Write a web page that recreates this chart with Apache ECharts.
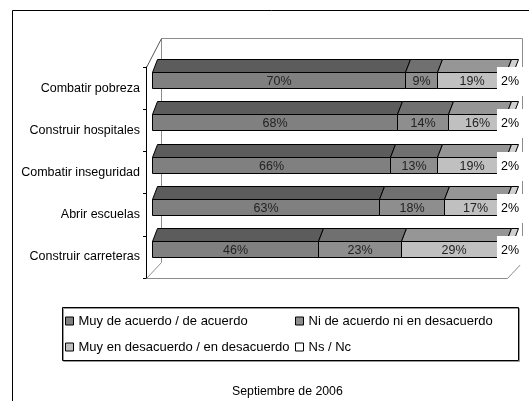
<!DOCTYPE html>
<html>
<head>
<meta charset="utf-8">
<script src="https://cdn.jsdelivr.net/npm/echarts@6/dist/echarts.min.js"></script>
<style>html,body{margin:0;padding:0;background:#fff;}#c{width:529px;height:401px;}</style>
</head>
<body>
<div id="c"></div>
<script>
const categories = ['Combatir pobreza', 'Construir hospitales', 'Combatir inseguridad', 'Abrir escuelas', 'Construir carreteras'];
const seriesNames = ['Muy de acuerdo / de acuerdo', 'Ni de acuerdo ni en desacuerdo', 'Muy en desacuerdo / en desacuerdo', 'Ns / Nc'];
const acuerdo = [70, 68, 66, 63, 46];
const neutral = [9, 14, 13, 18, 23];
const desacuerdo = [19, 16, 19, 17, 29];
const nsnc = [2, 2, 2, 2, 2];
const subtitle = 'Septiembre de 2006';

const FONT = '"Liberation Sans", Arial, sans-serif';
const values = [acuerdo, neutral, desacuerdo, nsnc];
const frontColors = ['#808080', '#8e8e8e', '#c0c0c0', '#ffffff'];
const topColors = ['#5c5c5c', '#707070', '#969696', '#d0d0d0'];

// stacked data: [catIndex, start, end, value]
const stacked = values.map(() => []);
categories.forEach((c, i) => {
  let acc = 0;
  values.forEach((arr, k) => {
    stacked[k].push([i, acc, acc + arr[i], arr[i]]);
    acc += arr[i];
  });
});

const crisp = v => Math.round(v) + 0.5;

function makeRender(k) {
  return function (params, api) {
    const cat = api.value(0), s = api.value(1), e = api.value(2), v = api.value(3);
    const p0 = api.coord([s, cat]);
    const p1 = api.coord([e, cat]);
    const h = 16, ddx = 5, ddy = -13;
    const x0 = crisp(p0[0] + 6), x1 = crisp(p1[0] + 6);
    const yc = p0[1] - 8;
    const yT = crisp(yc - h / 2);
    const children = [
      { type: 'polygon', shape: { points: [[x0, yT], [x1, yT], [x1 + ddx, yT + ddy], [x0 + ddx, yT + ddy]] },
        style: { fill: topColors[k], stroke: '#000', lineWidth: 1 } },
      { type: 'rect', shape: { x: x0, y: yT, width: x1 - x0, height: h },
        style: { fill: frontColors[k], stroke: '#000', lineWidth: 1 } }
    ];
    const txt = { type: 'text', z2: 10, style: {
      text: v + '%', x: (x0 + x1) / 2, y: yT + h / 2 + 1, align: 'center', verticalAlign: 'middle',
      fill: '#222', font: '12.5px ' + FONT } };
    if (k === 3) {
      txt.style.backgroundColor = '#fff';
      txt.style.padding = [8, 4, 8, 4];
      txt.style.fill = '#000';
    }
    children.push(txt);
    return { type: 'group', children };
  };
}

function renderFrame(params, api) {
  const a = api.coord([0, 0]);
  const b = api.coord([100, categories.length - 1]);
  const band = api.size([0, 1])[1];
  const L = crisp(a[0]), R = crisp(b[0]);
  const T = crisp(a[1] - band / 2), B = crisp(b[1] + band / 2);
  const bl = L + 15, br = R + 15, bt = T - 29, bb = B - 16;
  const gray = { stroke: '#8c8c8c', lineWidth: 1, fill: null };
  return { type: 'group', silent: true, children: [
    { type: 'polyline', shape: { points: [[bl, bb], [bl, bt], [br, bt], [br, bb]] }, style: gray },
    { type: 'line', shape: { x1: L, y1: T, x2: bl, y2: bt }, style: { stroke: '#555', lineWidth: 1 } },
    { type: 'polyline', shape: { points: [[bl, bb], [L, B], [R, B], [br, bb]] }, style: gray }
  ] };
}

const series = [{
  type: 'custom', name: '__frame', renderItem: renderFrame, z: 0, silent: true,
  data: [[0, 0, 0]], encode: { x: [1, 2], y: 0 }
}].concat(values.map((arr, k) => ({
  type: 'custom', name: seriesNames[k], renderItem: makeRender(k), z: 2 + k,
  itemStyle: { color: frontColors[k] },
  data: stacked[k], encode: { x: [1, 2], y: 0 }
})));

const legendCommon = {
  orient: 'vertical', top: 314, padding: 0, icon: 'rect', itemWidth: 8, itemHeight: 8, itemGap: 12,
  itemStyle: { borderColor: '#000', borderWidth: 1 },
  textStyle: { fontSize: 13, fontFamily: FONT, color: '#000', lineHeight: 14 },
  selectedMode: false
};

const chart = echarts.init(document.getElementById('c'), null, { renderer: 'canvas' });
chart.setOption({
  backgroundColor: '#fff',
  animation: false,
  title: { text: subtitle, left: 227, top: 381,
    textStyle: { fontSize: 12.3, fontWeight: 'normal', fontFamily: FONT, color: '#000' } },
  grid: { left: 146, right: 22, top: 67, bottom: 123 },
  xAxis: { type: 'value', min: 0, max: 100, show: false },
  yAxis: {
    type: 'category', data: categories, inverse: true,
    axisLine: { show: true, lineStyle: { color: '#000', width: 1 } },
    axisTick: { show: true, length: 3, lineStyle: { color: '#000' } },
    axisLabel: { margin: 6, fontSize: 12.5, fontFamily: FONT, color: '#000' },
    splitLine: { show: false }
  },
  legend: [
    Object.assign({ left: 65, data: [seriesNames[0], seriesNames[2]] }, legendCommon),
    Object.assign({ left: 295, data: [seriesNames[1], seriesNames[3]] }, legendCommon)
  ],
  graphic: [
    { type: 'rect', silent: true, z: -1, shape: { x: 12.5, y: 10.5, width: 700, height: 700 },
      style: { fill: null, stroke: '#000', lineWidth: 1 } },
    { type: 'rect', silent: true, shape: { x: 62.5, y: 307.5, width: 456, height: 53 },
      style: { fill: null, stroke: '#000', lineWidth: 1, shadowColor: '#999', shadowOffsetX: 1, shadowOffsetY: 1 } }
  ],
  series
});
</script>
</body>
</html>
